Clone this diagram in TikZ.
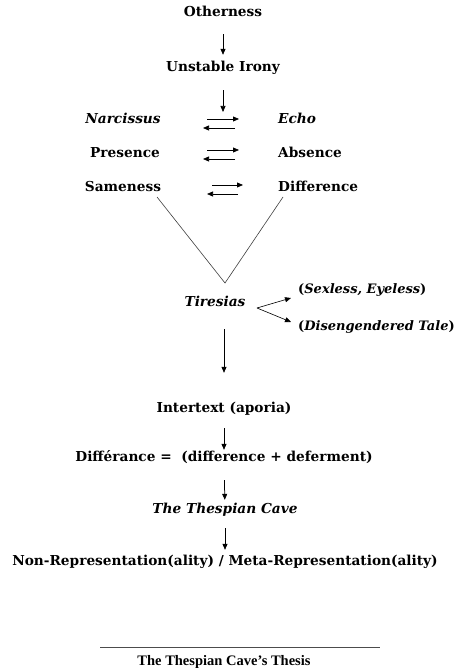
\documentclass[tikz,border=0pt]{standalone}
\usepackage{fontspec}
\setmainfont{DejaVu Serif}
\newfontfamily\thesisfont{Liberation Serif}
\usetikzlibrary{arrows.meta,calc}
\begin{document}
\begin{tikzpicture}[x=1pt,y=-1pt,
  lbl/.style={inner sep=0pt,text height=10pt,text depth=3pt,font=\fontsize{13.7}{15}\selectfont\bfseries},
  ilbl/.style={lbl,font=\fontsize{13.7}{15}\selectfont\bfseries\itshape},
  slbl/.style={lbl,font=\fontsize{13}{15}\selectfont\bfseries},
  arr/.style={-{Triangle[length=6pt,width=5pt]},line width=0.75pt},
  vline/.style={line width=0.6pt,draw=black!75}]
\useasboundingbox (0,0) rectangle (462,668);
\fill[white] (0,0) rectangle (462,668);
% nodes
\node[lbl] (o) at (223,13) {Otherness};
\node[lbl] (u) at (223,68) {Unstable Irony};
\coordinate (t1) at (223,112);
\node[ilbl] (n) at (123,120) {Narcissus};
\node[ilbl,anchor=west] (e) at (278,120) {Echo};
\node[lbl] (p) at (125,154) {Presence};
\node[lbl,anchor=west] (a) at (278,154) {Absence};
\node[lbl] (s) at (123,188) {Sameness};
\node[lbl,anchor=west] (d) at (278,188) {Difference};
\node[ilbl] (t) at (215,303) {Tiresias};
\node[slbl,anchor=west] (sx) at (298,290) {(\textit{Sexless, Eyeless})};
\node[slbl,anchor=west] (dt) at (298,327) {(\textit{Disengendered Tale})};
\node[lbl] (it) at (224,409) {Intertext (aporia)};
\node[lbl] (df) at (224,458) {Différance =~ (difference + deferment)};
\node[ilbl] (tc) at (225,510) {The Thespian Cave};
\node[lbl] (nr) at (225,562) {Non-Representation(ality) / Meta-Representation(ality)};
\node[inner sep=0pt,font=\thesisfont\fontsize{14.5}{16}\selectfont\bfseries] (th) at (224,662) {The Thespian Cave’s Thesis};
\coordinate (l1) at (100,647);
\coordinate (l2) at (380,647);
% connectors
\draw[arr,shorten <=14.5pt,shorten >=6.5pt] (o) -- (u);
\draw[arr,shorten <=15.5pt] (u) -- (t1);
% double arrows
\draw[arr] ([shift={(84,-1)}]n.center) -- ([shift={(-39,-1)}]e.west);
\draw[arr] ([shift={(-43,8)}]e.west) -- ([shift={(80,8)}]n.center);
\draw[arr] ([shift={(82,-4)}]p.center) -- ([shift={(-39,-4)}]a.west);
\draw[arr] ([shift={(-43,5)}]a.west) -- ([shift={(78,5)}]p.center);
\draw[arr] ([shift={(89,-3)}]s.center) -- ([shift={(-35,-3)}]d.west);
\draw[arr] ([shift={(-40,6)}]d.west) -- ([shift={(84,6)}]s.center);
% V
\draw[vline] ([shift={(34,9)}]s.center) -- ([shift={(10,-20)}]t.center) -- ([shift={(5,9)}]d.west);
% Tiresias branches
\draw[arr,line width=0.6pt] ([shift={(42,5)}]t.center) -- ([shift={(-7,8)}]sx.west);
\draw[arr,line width=0.6pt] ([shift={(42,5)}]t.center) -- ([shift={(-7,-5)}]dt.west);
% main chain
\draw[arr,shorten <=26pt,shorten >=29.5pt] (t.center -| it.center) -- (it);
\draw[arr,shorten <=12.5pt,shorten >=1.5pt] (it) -- (df);
\draw[arr,shorten <=15.5pt,shorten >=3.5pt] (df) -- (tc);
\draw[arr,shorten <=11.5pt,shorten >=5.5pt] (tc) -- (nr);
% thesis rule
\draw[line width=0.7pt,draw=black!70] (l1) -- (l2);
\end{tikzpicture}
\end{document}
